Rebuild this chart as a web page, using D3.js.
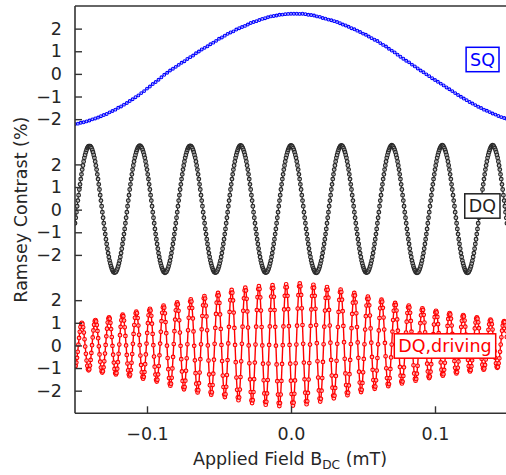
<!DOCTYPE html>
<html><head><meta charset="utf-8">
<script src="https://cdn.jsdelivr.net/npm/d3@7"></script>
<style>body{margin:0;background:#fff;} svg{display:block;font-family:"DejaVu Sans",sans-serif;}</style>
</head><body>
<svg id="chart" width="506" height="475"></svg>
<script>
// ---------- data ----------
const xTicks = [-0.1, 0.0, 0.1];
const xTickLabels = ["\u22120.1", "0.0", "0.1"];
const yTicks = [2, 1, 0, -1, -2];
const yTickLabels = ["2", "1", "0", "\u22121", "\u22122"];
const panelNames = ["SQ", "DQ", "DQ,driving"];
const panelColors = ["#0000ff", "#2a2a2a", "#ff0000"];

// SQ (blue) sampled every 0.002 mT from -0.15
const sqStart = -0.15, sqStep = 0.002;
const sqValues = [
-2.22,-2.20,-2.16,-2.14,-2.10,-2.06,-2.01,-1.97,-1.93,-1.87,
-1.82,-1.77,-1.70,-1.64,-1.58,-1.50,-1.44,-1.36,-1.29,-1.20,
-1.12,-1.03,-0.95,-0.85,-0.76,-0.65,-0.56,-0.45,-0.36,-0.26,
-0.15,-0.04,0.05,0.15,0.23,0.31,0.40,0.49,0.56,0.66,
0.74,0.81,0.91,0.99,1.08,1.15,1.22,1.31,1.38,1.46,
1.55,1.61,1.69,1.77,1.83,1.88,1.96,2.02,2.07,2.12,
2.18,2.25,2.29,2.33,2.38,2.43,2.46,2.50,2.54,2.56,
2.58,2.61,2.62,2.64,2.65,2.66,2.66,2.66,2.65,2.66,
2.64,2.61,2.60,2.58,2.54,2.52,2.47,2.44,2.40,2.37,
2.33,2.29,2.24,2.18,2.14,2.08,2.02,1.97,1.91,1.85,
1.78,1.73,1.65,1.58,1.51,1.45,1.36,1.28,1.21,1.11,
1.03,0.95,0.85,0.76,0.67,0.58,0.51,0.41,0.33,0.24,
0.15,0.07,-0.02,-0.10,-0.19,-0.27,-0.35,-0.43,-0.51,-0.60,
-0.68,-0.76,-0.85,-0.93,-1.01,-1.09,-1.16,-1.24,-1.31,-1.38,
-1.45,-1.51,-1.58,-1.63,-1.69,-1.75,-1.80,-1.86,-1.91,-1.95,
-1.99];

// DQ (black) sampled every 0.0005 mT from -0.15
const dqStart = -0.15, dqStep = 0.0005;
const dqValues = [
-0.60,-0.36,-0.11,0.15,0.40,0.64,0.89,1.12,1.35,1.56,
1.77,1.95,2.13,2.29,2.42,2.54,2.64,2.72,2.77,2.80,
2.80,2.80,2.77,2.72,2.64,2.54,2.42,2.29,2.13,1.95,
1.77,1.56,1.35,1.12,0.89,0.64,0.40,0.15,-0.11,-0.36,
-0.60,-0.85,-1.08,-1.31,-1.52,-1.73,-1.92,-2.09,-2.25,-2.38,
-2.50,-2.60,-2.68,-2.74,-2.77,-2.78,-2.77,-2.74,-2.68,-2.60,
-2.50,-2.38,-2.25,-2.09,-1.92,-1.73,-1.52,-1.31,-1.08,-0.85,
-0.60,-0.36,-0.11,0.15,0.40,0.64,0.89,1.12,1.35,1.56,
1.77,1.95,2.13,2.29,2.42,2.54,2.64,2.72,2.77,2.81,
2.83,2.81,2.77,2.72,2.64,2.54,2.42,2.29,2.13,1.95,
1.77,1.56,1.35,1.12,0.89,0.64,0.40,0.15,-0.11,-0.36,
-0.60,-0.85,-1.08,-1.31,-1.52,-1.73,-1.92,-2.09,-2.25,-2.38,
-2.50,-2.60,-2.68,-2.74,-2.77,-2.79,-2.77,-2.74,-2.68,-2.60,
-2.50,-2.38,-2.25,-2.09,-1.92,-1.73,-1.52,-1.31,-1.08,-0.85,
-0.60,-0.36,-0.11,0.15,0.40,0.64,0.89,1.12,1.35,1.56,
1.77,1.95,2.13,2.29,2.42,2.54,2.64,2.72,2.77,2.81,
2.82,2.81,2.77,2.72,2.64,2.54,2.42,2.29,2.13,1.95,
1.77,1.56,1.35,1.12,0.89,0.64,0.40,0.15,-0.11,-0.36,
-0.60,-0.85,-1.08,-1.31,-1.52,-1.73,-1.92,-2.09,-2.25,-2.38,
-2.50,-2.60,-2.68,-2.74,-2.77,-2.78,-2.77,-2.74,-2.68,-2.60,
-2.50,-2.38,-2.25,-2.09,-1.92,-1.73,-1.52,-1.31,-1.08,-0.85,
-0.60,-0.36,-0.11,0.15,0.40,0.64,0.89,1.12,1.35,1.56,
1.77,1.95,2.13,2.29,2.42,2.54,2.64,2.72,2.78,2.82,
2.84,2.82,2.78,2.72,2.64,2.54,2.42,2.29,2.13,1.95,
1.77,1.56,1.35,1.12,0.89,0.64,0.40,0.15,-0.11,-0.36,
-0.60,-0.85,-1.08,-1.31,-1.52,-1.73,-1.92,-2.09,-2.25,-2.38,
-2.50,-2.60,-2.68,-2.74,-2.77,-2.78,-2.77,-2.74,-2.68,-2.60,
-2.50,-2.38,-2.25,-2.09,-1.92,-1.73,-1.52,-1.31,-1.08,-0.85,
-0.60,-0.36,-0.11,0.15,0.40,0.64,0.89,1.12,1.35,1.56,
1.77,1.95,2.13,2.29,2.42,2.54,2.64,2.72,2.78,2.82,
2.84,2.82,2.78,2.72,2.64,2.54,2.42,2.29,2.13,1.95,
1.77,1.56,1.35,1.12,0.89,0.64,0.40,0.15,-0.11,-0.36,
-0.60,-0.85,-1.08,-1.31,-1.52,-1.73,-1.92,-2.09,-2.25,-2.38,
-2.50,-2.60,-2.68,-2.74,-2.78,-2.79,-2.78,-2.74,-2.68,-2.60,
-2.50,-2.38,-2.25,-2.09,-1.92,-1.73,-1.52,-1.31,-1.08,-0.85,
-0.60,-0.36,-0.11,0.15,0.40,0.64,0.89,1.12,1.35,1.56,
1.77,1.95,2.13,2.29,2.42,2.54,2.64,2.72,2.78,2.82,
2.84,2.82,2.78,2.72,2.64,2.54,2.42,2.29,2.13,1.95,
1.77,1.56,1.35,1.12,0.89,0.64,0.40,0.15,-0.11,-0.36,
-0.60,-0.85,-1.08,-1.31,-1.52,-1.73,-1.92,-2.09,-2.25,-2.38,
-2.50,-2.60,-2.68,-2.74,-2.77,-2.78,-2.77,-2.74,-2.68,-2.60,
-2.50,-2.38,-2.25,-2.09,-1.92,-1.73,-1.52,-1.31,-1.08,-0.85,
-0.60,-0.36,-0.11,0.15,0.40,0.64,0.89,1.12,1.35,1.56,
1.77,1.95,2.13,2.29,2.42,2.54,2.64,2.72,2.78,2.82,
2.85,2.82,2.78,2.72,2.64,2.54,2.42,2.29,2.13,1.95,
1.77,1.56,1.35,1.12,0.89,0.64,0.40,0.15,-0.11,-0.36,
-0.60,-0.85,-1.08,-1.31,-1.52,-1.73,-1.92,-2.09,-2.25,-2.38,
-2.50,-2.60,-2.68,-2.74,-2.78,-2.79,-2.78,-2.74,-2.68,-2.60,
-2.50,-2.38,-2.25,-2.09,-1.92,-1.73,-1.52,-1.31,-1.08,-0.85,
-0.60,-0.36,-0.11,0.15,0.40,0.64,0.89,1.12,1.35,1.56,
1.77,1.95,2.13,2.29,2.42,2.54,2.64,2.72,2.78,2.82,
2.85,2.83,2.78,2.72,2.64,2.54,2.42,2.29,2.13,1.95,
1.77,1.56,1.35,1.12,0.89,0.64,0.40,0.15,-0.11,-0.36,
-0.60,-0.85,-1.08,-1.31,-1.52,-1.73,-1.92,-2.09,-2.25,-2.38,
-2.50,-2.60,-2.68,-2.74,-2.78,-2.79,-2.78,-2.74,-2.68,-2.60,
-2.50,-2.38,-2.25,-2.09,-1.92,-1.73,-1.52,-1.31,-1.08,-0.85,
-0.60,-0.36,-0.11,0.15,0.40,0.64,0.89,1.12,1.35,1.56,
1.77,1.95,2.13,2.29,2.42,2.54,2.64,2.72,2.78,2.82,
2.85,2.83,2.78,2.72,2.64,2.54,2.42,2.29,2.13,1.95,
1.77,1.56,1.35,1.12,0.89,0.64,0.40,0.15,-0.11,-0.36,
-0.60];

// DQ, driving (red) sampled every 0.000473 mT from -0.15
const drvStart = -0.15, drvStep = 0.000473;
const drvValues = [
-0.95,-0.90,-0.76,-0.55,-0.28,0.03,0.33,0.60,0.81,0.95,
1.00,0.95,0.80,0.57,0.27,-0.05,-0.37,-0.67,-0.90,-1.05,
-1.10,-1.05,-0.89,-0.64,-0.33,0.01,0.35,0.66,0.91,1.07,
1.12,1.06,0.90,0.64,0.32,-0.04,-0.40,-0.72,-0.98,-1.14,
-1.20,-1.14,-0.97,-0.70,-0.36,0.02,0.40,0.74,1.01,1.18,
1.24,1.18,1.00,0.72,0.37,-0.02,-0.41,-0.76,-1.04,-1.22,
-1.28,-1.22,-1.03,-0.74,-0.37,0.04,0.45,0.82,1.11,1.30,
1.36,1.29,1.10,0.80,0.42,0.00,-0.42,-0.80,-1.10,-1.29,
-1.36,-1.29,-1.09,-0.77,-0.38,0.07,0.51,0.90,1.22,1.42,
1.49,1.42,1.21,0.88,0.47,0.01,-0.45,-0.86,-1.19,-1.40,
-1.47,-1.39,-1.18,-0.83,-0.40,0.08,0.55,0.98,1.33,1.54,
1.62,1.54,1.31,0.96,0.51,0.01,-0.49,-0.94,-1.29,-1.52,
-1.60,-1.52,-1.28,-0.91,-0.44,0.08,0.60,1.07,1.44,1.68,
1.76,1.67,1.42,1.03,0.54,-0.01,-0.56,-1.05,-1.44,-1.69,
-1.78,-1.69,-1.43,-1.02,-0.51,0.06,0.63,1.14,1.55,1.81,
1.90,1.81,1.53,1.11,0.57,-0.02,-0.61,-1.15,-1.57,-1.85,
-1.94,-1.84,-1.56,-1.12,-0.57,0.05,0.67,1.22,1.66,1.94,
2.04,1.94,1.65,1.19,0.62,-0.02,-0.66,-1.23,-1.69,-1.98,
-2.08,-1.98,-1.67,-1.20,-0.61,0.05,0.71,1.30,1.77,2.08,
2.18,2.07,1.76,1.28,0.67,0.00,-0.67,-1.28,-1.76,-2.07,
-2.18,-2.07,-1.75,-1.25,-0.63,0.07,0.77,1.39,1.89,2.21,
2.32,2.21,1.88,1.37,0.73,0.02,-0.69,-1.33,-1.84,-2.17,
-2.28,-2.16,-1.83,-1.31,-0.65,0.09,0.82,1.48,2.00,2.33,
2.45,2.33,1.99,1.45,0.77,0.02,-0.74,-1.42,-1.96,-2.30,
-2.42,-2.30,-1.95,-1.40,-0.70,0.07,0.83,1.53,2.08,2.43,
2.55,2.43,2.06,1.50,0.79,0.00,-0.79,-1.50,-2.06,-2.43,
-2.55,-2.42,-2.06,-1.49,-0.76,0.04,0.83,1.56,2.13,2.49,
2.62,2.49,2.12,1.54,0.81,0.00,-0.81,-1.54,-2.12,-2.49,
-2.62,-2.49,-2.12,-1.53,-0.80,0.02,0.84,1.57,2.16,2.53,
2.66,2.53,2.15,1.56,0.82,-0.01,-0.84,-1.58,-2.17,-2.55,
-2.68,-2.55,-2.17,-1.57,-0.82,0.01,0.84,1.59,2.19,2.57,
2.70,2.57,2.19,1.60,0.85,0.02,-0.81,-1.56,-2.15,-2.53,
-2.66,-2.53,-2.14,-1.55,-0.79,0.04,0.87,1.63,2.22,2.61,
2.74,2.61,2.23,1.64,0.90,0.07,-0.76,-1.50,-2.09,-2.47,
-2.60,-2.47,-2.10,-1.51,-0.78,0.04,0.86,1.59,2.18,2.55,
2.68,2.55,2.19,1.62,0.90,0.10,-0.70,-1.42,-1.99,-2.35,
-2.48,-2.36,-2.00,-1.44,-0.73,0.05,0.83,1.54,2.10,2.46,
2.58,2.46,2.11,1.57,0.88,0.12,-0.64,-1.33,-1.87,-2.22,
-2.34,-2.22,-1.88,-1.35,-0.68,0.07,0.81,1.48,2.01,2.35,
2.47,2.36,2.02,1.51,0.86,0.14,-0.59,-1.24,-1.75,-2.09,
-2.20,-2.09,-1.77,-1.27,-0.64,0.06,0.76,1.39,1.89,2.21,
2.32,2.21,1.90,1.42,0.81,0.13,-0.55,-1.16,-1.64,-1.95,
-2.06,-1.96,-1.66,-1.19,-0.60,0.05,0.70,1.29,1.76,2.06,
2.16,2.06,1.77,1.32,0.75,0.12,-0.51,-1.08,-1.53,-1.82,
-1.92,-1.82,-1.54,-1.11,-0.56,0.05,0.66,1.21,1.64,1.92,
2.02,1.93,1.66,1.23,0.70,0.11,-0.48,-1.01,-1.44,-1.71,
-1.80,-1.71,-1.45,-1.04,-0.53,0.04,0.61,1.12,1.53,1.79,
1.88,1.79,1.54,1.15,0.65,0.10,-0.45,-0.95,-1.34,-1.59,
-1.68,-1.60,-1.35,-0.97,-0.49,0.04,0.57,1.05,1.43,1.68,
1.76,1.68,1.44,1.08,0.61,0.10,-0.41,-0.88,-1.24,-1.48,
-1.56,-1.48,-1.25,-0.90,-0.45,0.04,0.53,0.98,1.33,1.56,
1.64,1.57,1.35,1.01,0.58,0.10,-0.38,-0.81,-1.15,-1.37,
-1.44,-1.37,-1.16,-0.83,-0.41,0.05,0.50,0.92,1.25,1.46,
1.53,1.46,1.26,0.94,0.54,0.10,-0.35,-0.75,-1.07,-1.27,
-1.34,-1.27,-1.08,-0.77,-0.38,0.05,0.47,0.86,1.17,1.36,
1.43,1.37,1.18,0.88,0.51,0.10,-0.32,-0.69,-0.99,-1.18,
-1.24,-1.18,-0.99,-0.71,-0.35,0.05,0.45,0.81,1.09,1.28,
1.34,1.28,1.10,0.83,0.48,0.10,-0.29,-0.64,-0.91,-1.09,
-1.15,-1.09,-0.92,-0.66,-0.32,0.05,0.41,0.75,1.01,1.18,
1.24,1.18,1.02,0.76,0.44,0.09,-0.27,-0.59,-0.85,-1.01,
-1.07,-1.02,-0.86,-0.62,-0.31,0.04,0.38,0.69,0.93,1.09,
1.14,1.09,0.94,0.70,0.40,0.08,-0.25,-0.55,-0.79,-0.94,
-0.99,-0.94,-0.79,-0.57,-0.28,0.04,0.36,0.65,0.87,1.02,
1.07,1.02,0.88,0.65,0.37];

// ---------- drawing ----------
const L = 75, R = 507, T = 6, B = 413.3;
const ph = (B - T) / 3;
const FONT = "DejaVu Sans, sans-serif";
const FS = 17.5;
const ink = "#262626", spine = "#333333";

const x = d3.scaleLinear().domain([-0.15, 0.15]).range([L, R]);
const ys = [0, 1, 2].map(p => d3.scaleLinear().domain([-3, 3]).range([T + (p + 1) * ph, T + p * ph]));

const svg = d3.select("#chart");
svg.append("rect").attr("width", 506).attr("height", 475).attr("fill", "#fff");
svg.append("defs").append("clipPath").attr("id", "clip")
  .append("rect").attr("x", L).attr("y", T).attr("width", R - L).attr("height", B - T);

const series = [
  {vals: sqValues, start: sqStart, step: sqStep, panel: 0, lw: 1.0, r: 1.4, sw: 1.1},
  {vals: dqValues, start: dqStart, step: dqStep, panel: 1, lw: 1.2, r: 1.8, sw: 1.25},
  {vals: drvValues, start: drvStart, step: drvStep, panel: 2, lw: 1.4, r: 1.8, sw: 1.15}
];

const plot = svg.append("g").attr("clip-path", "url(#clip)");
series.forEach(s => {
  const y = ys[s.panel];
  const col = panelColors[s.panel];
  const pts = s.vals.map((v, i) => [s.start + i * s.step, v]);
  const g = plot.append("g");
  g.append("path").datum(pts)
    .attr("fill", "none").attr("stroke", col).attr("stroke-width", s.lw)
    .attr("d", d3.line().x(d => x(d[0])).y(d => y(d[1])));
  g.selectAll("circle").data(pts).join("circle")
    .attr("cx", d => x(d[0])).attr("cy", d => y(d[1])).attr("r", s.r)
    .attr("fill", "#fff").attr("fill-opacity", 0.55)
    .attr("stroke", col).attr("stroke-width", s.sw);
});

// y axes (one per panel)
ys.forEach((y, p) => {
  const ax = svg.append("g").attr("transform", `translate(${L},0)`)
    .call(d3.axisLeft(y).tickValues(yTicks).tickSize(-7).tickPadding(13)
      .tickFormat((d, i) => yTickLabels[i]));
  ax.select(".domain").remove();
  ax.selectAll(".tick line").attr("stroke", spine).attr("stroke-width", 1.4);
  ax.selectAll(".tick text").attr("fill", ink).style("font-family", FONT).style("font-size", FS + "px");
});

// x axis
const xa = svg.append("g").attr("transform", `translate(0,${B})`)
  .call(d3.axisBottom(x).tickValues(xTicks).tickSize(-7).tickPadding(14)
    .tickFormat((d, i) => xTickLabels[i]));
xa.select(".domain").remove();
xa.selectAll(".tick line").attr("stroke", spine).attr("stroke-width", 1.4);
xa.selectAll(".tick text").attr("fill", ink).style("font-family", FONT).style("font-size", FS + "px");

// spines
const sp = svg.append("g").attr("stroke", spine).attr("stroke-width", 1.6).attr("fill", "none");
sp.append("line").attr("x1", L).attr("x2", L).attr("y1", T).attr("y2", B);
sp.append("line").attr("x1", L).attr("x2", R).attr("y1", T).attr("y2", T);
sp.append("line").attr("x1", L).attr("x2", R).attr("y1", B).attr("y2", B);
sp.append("line").attr("x1", R).attr("x2", R).attr("y1", T).attr("y2", B);

// panel labels in boxes
const boxSpec = [{right: 499, cy: 59.5}, {right: 500, cy: 206}, {right: 495.7, cy: 346}];
panelNames.forEach((name, p) => {
  const g = svg.append("g");
  const col = p === 1 ? "#222" : panelColors[p];
  const rect = g.append("rect");
  const t = g.append("text").text(name)
    .attr("x", boxSpec[p].right - 4).attr("y", boxSpec[p].cy).attr("dy", "0.36em")
    .attr("text-anchor", "end").attr("fill", col)
    .style("font-family", FONT).style("font-size", FS + "px");
  const bb = t.node().getBBox();
  rect.attr("x", bb.x - 4).attr("width", bb.width + 8)
    .attr("y", boxSpec[p].cy - 12.2).attr("height", 24.4)
    .attr("fill", "#fff").attr("stroke", col).attr("stroke-width", 1.5);
});

// axis labels
const xl = svg.append("text").attr("x", (L + R) / 2 - 1).attr("y", 465)
  .attr("text-anchor", "middle").attr("fill", ink)
  .style("font-family", FONT).style("font-size", FS + "px");
xl.append("tspan").text("Applied Field B");
xl.append("tspan").text("DC").attr("dy", 3.5).style("font-size", "12.2px");
xl.append("tspan").text(" (mT)").attr("dy", -3.5);

svg.append("text").attr("transform", `translate(27,${(T + B) / 2}) rotate(-90)`)
  .attr("text-anchor", "middle").attr("fill", ink)
  .style("font-family", FONT).style("font-size", FS + "px")
  .text("Ramsey Contrast (%)");
</script>
</body></html>
